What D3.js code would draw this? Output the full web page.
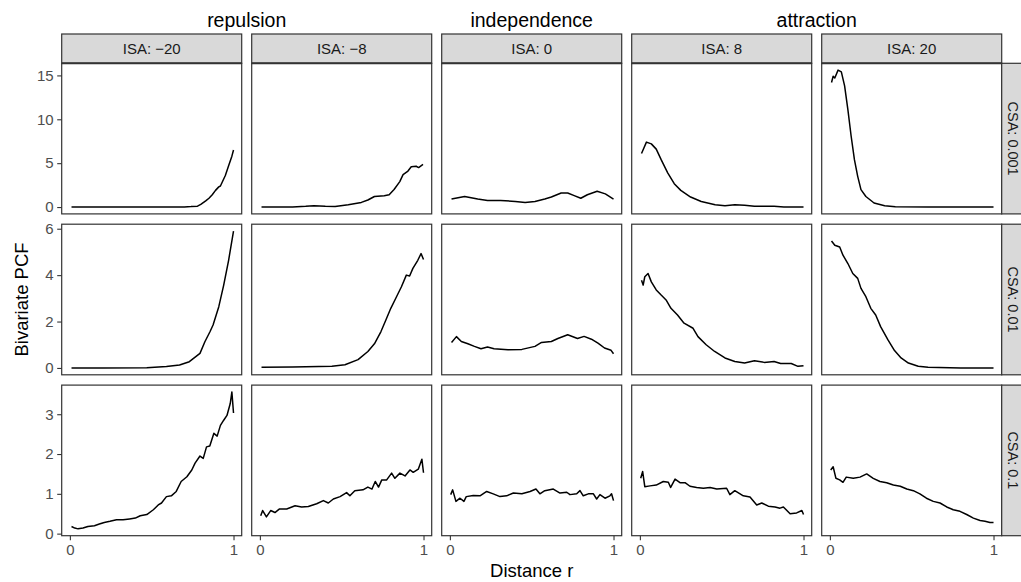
<!DOCTYPE html>
<html>
<head>
<meta charset="utf-8">
<script src="https://cdn.jsdelivr.net/npm/d3@7"></script>
<style>
  html, body { margin: 0; padding: 0; background: #ffffff; }
  svg { display: block; font-family: "Liberation Sans", Arial, Helvetica, sans-serif; }
</style>
</head>
<body>
<svg id="chart" width="1021" height="582"></svg>
<script>
// ---------------- data ----------------
const isaLevels = ["−20", "−8", "0", "8", "20"];
const csaLevels = ["0.001", "0.01", "0.1"];
const interactionLabels = ["repulsion", "independence", "attraction"];
const interactionSpans = [[0, 1], [2, 2], [3, 4]]; // column index ranges per interaction group
const yTicksByRow = [[0, 5, 10, 15], [0, 2, 4, 6], [0, 1, 2, 3]];
const xTicks = [0, 1];
const xTitle = "Distance r";
const yTitle = "Bivariate PCF";

// CSA 0.001
const pcf_0001_m20 = [[0.01,0],[0.1,0],[0.2,0],[0.3,0],[0.4,0],[0.5,0],[0.6,0],[0.7,0.02],[0.74,0.05],[0.78,0.1],[0.8,0.3],[0.83,0.7],[0.85,1.0],[0.87,1.4],[0.89,1.9],[0.91,2.3],[0.92,2.4],[0.93,2.8],[0.95,3.6],[0.97,4.7],[0.99,5.8],[1.0,6.5]];
const pcf_0001_m8 = [[0.01,0],[0.1,0],[0.2,0.02],[0.28,0.08],[0.33,0.15],[0.4,0.08],[0.46,0.05],[0.54,0.26],[0.62,0.53],[0.66,0.8],[0.7,1.2],[0.76,1.3],[0.79,1.4],[0.82,2.0],[0.855,2.9],[0.875,3.7],[0.905,4.1],[0.925,4.6],[0.955,4.65],[0.97,4.5],[0.997,4.85]];
const pcf_0001_0 = [[0.01,0.91],[0.09,1.21],[0.17,0.91],[0.23,0.76],[0.31,0.76],[0.40,0.64],[0.46,0.53],[0.52,0.64],[0.58,0.91],[0.62,1.14],[0.68,1.6],[0.72,1.6],[0.76,1.3],[0.80,1.0],[0.84,1.4],[0.90,1.8],[0.95,1.5],[1.0,0.91]];
const pcf_0001_8 = [[0.01,6.1],[0.04,7.4],[0.07,7.2],[0.10,6.6],[0.13,5.4],[0.17,3.9],[0.21,2.66],[0.25,1.9],[0.31,1.14],[0.375,0.64],[0.46,0.26],[0.52,0.15],[0.58,0.26],[0.64,0.2],[0.70,0.08],[0.82,0.08],[0.88,0.0],[1.0,0.0]];
const pcf_0001_20 = [[0.01,14.2],[0.02,14.9],[0.03,14.7],[0.05,15.6],[0.07,15.4],[0.09,13.8],[0.11,11.1],[0.13,8.07],[0.15,5.4],[0.17,3.5],[0.19,1.98],[0.22,1.2],[0.27,0.46],[0.335,0.15],[0.40,0.04],[0.6,0.0],[1.0,0.0]];

// CSA 0.01
const pcf_001_m20 = [[0.01,0],[0.2,0],[0.47,0.01],[0.59,0.06],[0.67,0.13],[0.73,0.27],[0.795,0.63],[0.825,1.13],[0.856,1.56],[0.875,1.85],[0.91,2.64],[0.94,3.57],[0.97,4.64],[1.0,5.9]];
const pcf_001_m8 = [[0.01,0.03],[0.2,0.04],[0.44,0.07],[0.52,0.14],[0.60,0.36],[0.66,0.71],[0.70,1.04],[0.74,1.57],[0.77,2.07],[0.80,2.57],[0.835,3.07],[0.865,3.5],[0.895,4.0],[0.915,3.96],[0.935,4.29],[0.965,4.64],[0.985,4.93],[1.0,4.67]];
const pcf_001_0 = [[0.01,1.1],[0.04,1.35],[0.07,1.14],[0.11,1.04],[0.15,0.93],[0.19,0.83],[0.23,0.9],[0.27,0.83],[0.355,0.78],[0.44,0.8],[0.52,0.93],[0.56,1.1],[0.62,1.14],[0.66,1.27],[0.72,1.43],[0.78,1.27],[0.82,1.36],[0.865,1.24],[0.905,1.07],[0.945,0.86],[0.985,0.76],[1.0,0.61]];
const pcf_001_8 = [[0.01,3.78],[0.02,3.57],[0.03,3.93],[0.05,4.07],[0.07,3.71],[0.10,3.36],[0.13,3.14],[0.16,2.93],[0.19,2.57],[0.23,2.28],[0.27,1.93],[0.325,1.71],[0.355,1.35],[0.405,1.0],[0.457,0.71],[0.52,0.43],[0.58,0.28],[0.64,0.21],[0.70,0.31],[0.76,0.24],[0.82,0.28],[0.86,0.19],[0.925,0.19],[0.966,0.07],[1.0,0.1]];
const pcf_001_20 = [[0.01,5.47],[0.03,5.29],[0.06,5.21],[0.08,4.86],[0.11,4.5],[0.14,4.07],[0.17,3.86],[0.19,3.43],[0.22,3.07],[0.25,2.57],[0.28,2.28],[0.31,1.78],[0.355,1.21],[0.395,0.75],[0.435,0.43],[0.48,0.21],[0.54,0.07],[0.60,0.03],[0.8,0.0],[1.0,0.0]];

// CSA 0.1
const pcf_01_m20 = [[0.01,0.18],[0.03,0.14],[0.05,0.12],[0.08,0.14],[0.11,0.18],[0.15,0.2],[0.18,0.24],[0.21,0.28],[0.245,0.31],[0.285,0.35],[0.325,0.35],[0.365,0.37],[0.40,0.39],[0.43,0.45],[0.47,0.48],[0.51,0.6],[0.54,0.72],[0.56,0.77],[0.59,0.93],[0.62,0.95],[0.65,1.06],[0.68,1.31],[0.715,1.43],[0.745,1.6],[0.765,1.77],[0.795,1.95],[0.815,1.89],[0.835,2.18],[0.855,2.2],[0.88,2.52],[0.90,2.45],[0.92,2.72],[0.94,2.85],[0.96,2.97],[0.98,3.27],[0.99,3.56],[1.0,3.03]];
const pcf_01_m8 = [[0.005,0.45],[0.017,0.58],[0.04,0.42],[0.066,0.58],[0.092,0.53],[0.12,0.62],[0.164,0.62],[0.215,0.7],[0.255,0.67],[0.296,0.68],[0.347,0.75],[0.388,0.83],[0.418,0.77],[0.449,0.87],[0.49,0.93],[0.53,1.03],[0.55,0.95],[0.58,1.08],[0.63,1.1],[0.66,1.17],[0.685,1.12],[0.705,1.31],[0.725,1.17],[0.745,1.35],[0.775,1.35],[0.805,1.52],[0.825,1.39],[0.856,1.52],[0.887,1.45],[0.917,1.6],[0.937,1.54],[0.968,1.62],[0.99,1.87],[1.0,1.53]];
const pcf_01_0 = [[0.005,0.98],[0.017,1.1],[0.037,0.81],[0.062,0.89],[0.086,0.81],[0.10,0.93],[0.143,0.96],[0.184,0.95],[0.225,1.06],[0.265,1.0],[0.306,0.93],[0.347,0.95],[0.388,1.02],[0.44,1.0],[0.49,1.06],[0.526,1.12],[0.55,1.0],[0.58,1.08],[0.632,1.12],[0.673,1.02],[0.714,1.04],[0.734,0.98],[0.775,1.0],[0.795,1.08],[0.815,0.95],[0.846,1.0],[0.877,1.0],[0.897,0.87],[0.917,0.98],[0.948,0.89],[0.978,0.95],[0.988,1.0],[1.0,0.83]];
const pcf_01_8 = [[0.005,1.39],[0.017,1.56],[0.03,1.18],[0.062,1.2],[0.10,1.22],[0.143,1.31],[0.174,1.29],[0.188,1.16],[0.215,1.37],[0.245,1.28],[0.276,1.28],[0.306,1.19],[0.347,1.16],[0.388,1.14],[0.429,1.16],[0.47,1.12],[0.53,1.14],[0.55,0.98],[0.58,1.08],[0.632,0.95],[0.673,0.92],[0.714,0.72],[0.745,0.77],[0.785,0.69],[0.826,0.67],[0.856,0.64],[0.877,0.67],[0.918,0.5],[0.958,0.52],[0.99,0.58],[1.0,0.48]];
const pcf_01_20 = [[0.005,1.6],[0.02,1.68],[0.037,1.39],[0.06,1.35],[0.08,1.29],[0.10,1.42],[0.143,1.39],[0.184,1.42],[0.225,1.5],[0.265,1.39],[0.306,1.31],[0.347,1.28],[0.388,1.22],[0.43,1.19],[0.47,1.12],[0.51,1.08],[0.55,1.0],[0.59,0.89],[0.632,0.81],[0.673,0.77],[0.714,0.67],[0.754,0.6],[0.795,0.56],[0.836,0.48],[0.877,0.39],[0.918,0.33],[0.948,0.31],[0.978,0.28],[1.0,0.28]];

const panelData = [
  [pcf_0001_m20, pcf_0001_m8, pcf_0001_0, pcf_0001_8, pcf_0001_20],
  [pcf_001_m20,  pcf_001_m8,  pcf_001_0,  pcf_001_8,  pcf_001_20],
  [pcf_01_m20,   pcf_01_m8,   pcf_01_0,   pcf_01_8,   pcf_01_20]
];

// ---------------- layout ----------------
const panelLeft0 = 61.7, panelW = 180, colGap = 10;
const panelTop0 = 63.3, panelH = 150.6, rowGap = 10.3;
const stripH = 29.3;
const borderCol = "#333333";
const tickTextCol = "#4D4D4D";
const stripTextCol = "#1A1A1A";

const svg = d3.select("#chart");
const colX = i => panelLeft0 + i * (panelW + colGap);
const rowY = j => panelTop0 + j * (panelH + rowGap);

const x = d3.scaleLinear().domain([-0.05, 1.05]).range([0, panelW]);

const rowScales = panelData.map(row => {
  const all = row.flat().map(d => d[1]);
  const lo = d3.min(all), hi = d3.max(all), pad = (hi - lo) * 0.05;
  return d3.scaleLinear().domain([lo - pad, hi + pad]).range([panelH, 0]);
});

const defs = svg.append("defs");
defs.append("clipPath").attr("id", "pclip")
  .append("rect").attr("width", panelW).attr("height", panelH);

panelData.forEach((row, j) => {
  const y = rowScales[j];
  row.forEach((series, i) => {
    const g = svg.append("g").attr("transform", `translate(${colX(i)},${rowY(j)})`);
    g.append("rect").attr("width", panelW).attr("height", panelH).attr("fill", "#fff");
    g.append("path")
      .datum(series)
      .attr("clip-path", "url(#pclip)")
      .attr("fill", "none")
      .attr("stroke", "#000")
      .attr("stroke-width", 1.5)
      .attr("stroke-linejoin", "round")
      .attr("d", d3.line().x(d => x(d[0])).y(d => y(d[1])));
    g.append("rect").attr("width", panelW).attr("height", panelH)
      .attr("fill", "none").attr("stroke", borderCol).attr("stroke-width", 1.2);

    if (i === 0) {
      const ax = g.append("g").call(d3.axisLeft(y).tickValues(yTicksByRow[j]).tickFormat(d3.format("d"))
        .tickSize(4.5).tickSizeOuter(0).tickPadding(3.5));
      styleAxis(ax);
    }
    if (j === panelData.length - 1) {
      const ax = g.append("g").attr("transform", `translate(0,${panelH})`)
        .call(d3.axisBottom(x).tickValues(xTicks).tickFormat(d3.format("d")).tickSize(4.5).tickSizeOuter(0).tickPadding(4));
      styleAxis(ax);
    }
  });

  // right strip
  const sx = colX(isaLevels.length - 1) + panelW;
  const sg = svg.append("g").attr("transform", `translate(${sx},${rowY(j)})`);
  sg.append("rect").attr("width", stripH).attr("height", panelH)
    .attr("fill", "#D9D9D9").attr("stroke", borderCol).attr("stroke-width", 1.2);
  sg.append("text")
    .attr("transform", `translate(${11.6},${panelH / 2}) rotate(90)`)
    .attr("text-anchor", "middle").attr("dy", "0.35em")
    .attr("font-size", 14.5).attr("fill", stripTextCol)
    .text("CSA: " + csaLevels[j]);
});

function styleAxis(ax) {
  ax.select(".domain").remove();
  ax.selectAll(".tick line").attr("stroke", borderCol).attr("stroke-width", 1.1);
  ax.selectAll(".tick text").attr("fill", tickTextCol).attr("font-size", 15)
    .attr("font-family", "Liberation Sans, Arial, sans-serif");
}

// top strips
isaLevels.forEach((lab, i) => {
  const g = svg.append("g").attr("transform", `translate(${colX(i)},${panelTop0 - stripH})`);
  g.append("rect").attr("width", panelW).attr("height", stripH)
    .attr("fill", "#D9D9D9").attr("stroke", borderCol).attr("stroke-width", 1.2);
  g.append("text").attr("x", panelW / 2).attr("y", stripH / 2).attr("dy", "0.35em")
    .attr("text-anchor", "middle").attr("font-size", 15).attr("fill", stripTextCol)
    .text("ISA: " + lab);
});
// redraw panel top borders over strips
panelData[0].forEach((s, i) => {
  svg.append("line").attr("x1", colX(i)).attr("x2", colX(i) + panelW)
    .attr("y1", panelTop0).attr("y2", panelTop0)
    .attr("stroke", borderCol).attr("stroke-width", 2);
});

// interaction headers
interactionLabels.forEach((lab, k) => {
  const [a, b] = interactionSpans[k];
  const cx = (colX(a) + colX(b) + panelW) / 2;
  svg.append("text").attr("x", cx).attr("y", 26.5)
    .attr("text-anchor", "middle").attr("font-size", 19.5).attr("fill", "#000")
    .text(lab);
});

// axis titles
const plotMidX = (colX(0) + colX(4) + panelW) / 2;
svg.append("text").attr("x", plotMidX).attr("y", 577)
  .attr("text-anchor", "middle").attr("font-size", 18.5).attr("fill", "#000")
  .text(xTitle);
const plotMidY = (panelTop0 + rowY(2) + panelH) / 2;
svg.append("text").attr("transform", `translate(28,${plotMidY}) rotate(-90)`)
  .attr("text-anchor", "middle").attr("font-size", 18.5).attr("fill", "#000")
  .text(yTitle);
</script>
</body>
</html>
